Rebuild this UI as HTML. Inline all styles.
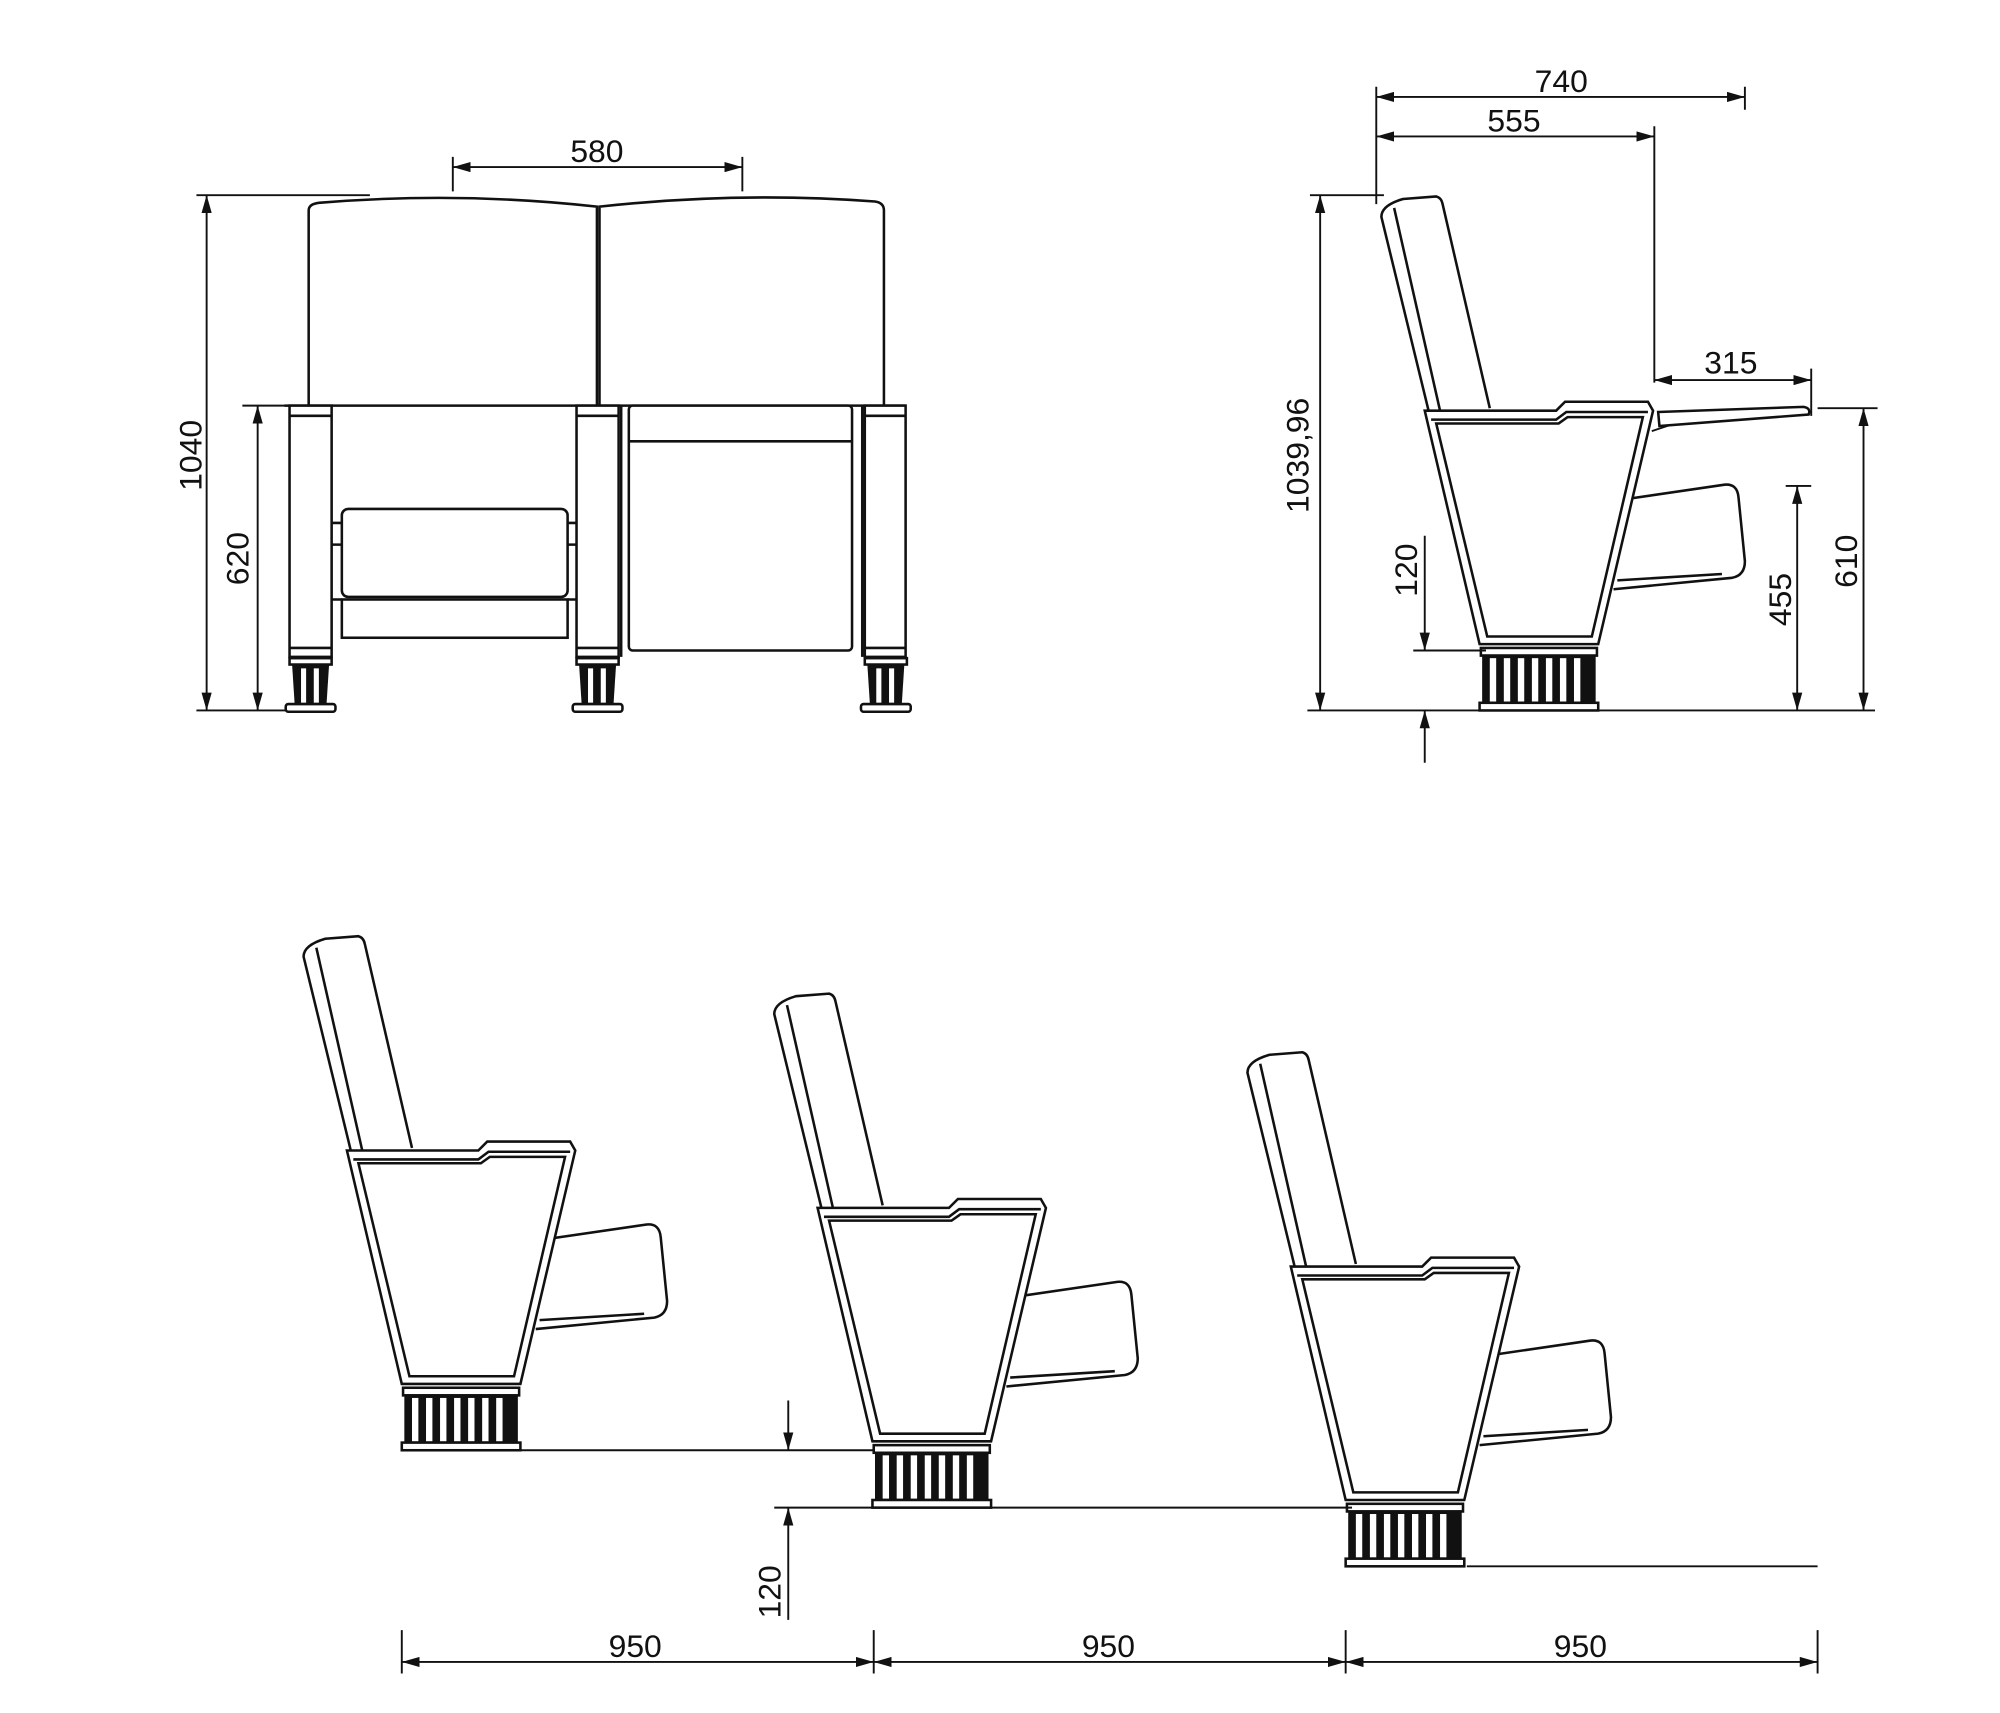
<!DOCTYPE html>
<html><head><meta charset="utf-8"><style>
html,body{margin:0;padding:0;background:#fff}
svg{display:block}
text{font-family:"Liberation Sans",sans-serif;font-size:25px;fill:#111}
</style></head><body>
<svg width="2000" height="1713" viewBox="0 0 1568 1343" xmlns="http://www.w3.org/2000/svg">
<defs>
<marker id="a" viewBox="0 0 14 8" refX="14" refY="4" markerWidth="14" markerHeight="8" markerUnits="userSpaceOnUse" orient="auto-start-reverse"><path d="M0,0 L14,4 L0,8 Z" fill="#111"/></marker>
<g id="chair" fill="none" stroke="#111" stroke-width="2">
  <path d="M1120,322 L1083,170 Q1083,161 1100,156 L1126,154 Q1130,155 1131,160 L1168,320"/>
  <path d="M1129,322 L1093,163"/>
  <path d="M1270,392 L1352,380 Q1362,379 1363,390 L1368,440 Q1368,451 1358,453 L1265,462"/>
  <path d="M1268,455 L1350,450"/>
  <path d="M1117,322 L1220,322 L1227,315 L1292,315 L1296,322 L1253,505 L1160,505 Z" fill="#fff"/>
  <path d="M1122,329 L1220,329 L1228,323 L1292,323"/>
  <path d="M1126,332 L1222,332 L1229,327 L1288,327 L1248,499 L1166,499 Z"/>
  <rect x="1161" y="508" width="91" height="6" fill="#fff"/>
  <rect x="1163" y="514" width="87" height="38" fill="#111"/>
  <g fill="#fff" stroke="none">
    <rect x="1168" y="516" width="5" height="34"/><rect x="1179" y="516" width="5" height="34"/>
    <rect x="1190" y="516" width="5" height="34"/><rect x="1201" y="516" width="5" height="34"/>
    <rect x="1212" y="516" width="5" height="34"/><rect x="1223" y="516" width="5" height="34"/>
    <rect x="1234" y="516" width="5" height="34"/>
  </g>
  <rect x="1160" y="551" width="93" height="6" fill="#fff"/>
</g>
<g id="foot">
  <rect x="0" y="0" width="33" height="5" fill="#fff" stroke="#111" stroke-width="2"/>
  <path d="M2,5 L31,5 L29,36 L4,36 Z" fill="#111"/>
  <rect x="9" y="8" width="4" height="27" fill="#fff"/><rect x="19" y="8" width="4" height="27" fill="#fff"/>
  <rect x="-3" y="36" width="39" height="6" rx="2" fill="#fff" stroke="#111" stroke-width="2"/>
</g>
</defs>

<!-- FRONT VIEW -->
<g fill="none" stroke="#111" stroke-width="2">
  <path d="M242,318 L242,165 Q242,160 250,159 Q360,150 468,162 L468,318"/>
  <path d="M470,318 L470,162 Q580,150 686,158 Q693,159 693,165 L693,318"/>
  <path d="M223,318 L710,318"/>
  <rect x="227" y="318" width="33" height="197" fill="#fff"/>
  <rect x="452" y="318" width="33" height="197" fill="#fff"/>
  <rect x="678" y="318" width="32" height="197" fill="#fff"/>
  <path d="M227,326 L260,326 M452,326 L485,326 M678,326 L710,326 M227,508 L260,508 M452,508 L485,508 M678,508 L710,508"/>
  <path d="M487,318 L487,515 M676,318 L676,515"/>
  <rect x="268" y="399" width="177" height="69" rx="5" fill="#fff"/>
  <rect x="268" y="470" width="177" height="30" fill="#fff"/>
  <path d="M260,410 L268,410 M260,427 L268,427 M445,410 L452,410 M445,427 L452,427 M260,470 L268,470 M445,470 L452,470"/>
  <rect x="493" y="318" width="175" height="192" rx="3" fill="#fff"/>
  <path d="M493,346 L668,346"/>
</g>
<use href="#foot" transform="translate(227,516)"/>
<use href="#foot" transform="translate(452,516)"/>
<use href="#foot" transform="translate(678,516)"/>

<!-- front dims -->
<g stroke="#111" stroke-width="1.5" fill="none">
  <path d="M355,123 L355,150 M582,123 L582,150"/>
  <path d="M355,131 L582,131" marker-start="url(#a)" marker-end="url(#a)"/>
  <path d="M154,153 L290,153 M154,557 L225,557 M190,318 L227,318 M190,557 L215,557"/>
  <path d="M162,153 L162,557" marker-start="url(#a)" marker-end="url(#a)"/>
  <path d="M202,318 L202,557" marker-start="url(#a)" marker-end="url(#a)"/>
</g>
<text x="468" y="127" text-anchor="middle">580</text>
<text transform="translate(158,357) rotate(-90)" text-anchor="middle">1040</text>
<text transform="translate(195,438) rotate(-90)" text-anchor="middle">620</text>

<!-- SIDE VIEW -->
<use href="#chair"/>
<g fill="#fff" stroke="#111" stroke-width="2">
  <path d="M1300,323 L1414,319 Q1420,320 1418,325 L1301,334 Z"/>
</g>
<path d="M1295,338 L1310,333" stroke="#111" stroke-width="1.5"/>
<g stroke="#111" stroke-width="1.5" fill="none">
  <path d="M1025,557 L1470,557"/>
  <path d="M1079,68 L1079,160 M1368,68 L1368,86 M1297,99 L1297,300 M1420,289 L1420,326 M1027,153 L1085,153 M1425,320 L1472,320 M1400,381 L1420,381 M1108,510 L1165,510"/>
  <path d="M1079,76 L1368,76" marker-start="url(#a)" marker-end="url(#a)"/>
  <path d="M1079,107 L1297,107" marker-start="url(#a)" marker-end="url(#a)"/>
  <path d="M1297,298 L1420,298" marker-start="url(#a)" marker-end="url(#a)"/>
  <path d="M1035,153 L1035,557" marker-start="url(#a)" marker-end="url(#a)"/>
  <path d="M1461,320 L1461,557" marker-start="url(#a)" marker-end="url(#a)"/>
  <path d="M1409,381 L1409,557" marker-start="url(#a)" marker-end="url(#a)"/>
  <path d="M1117,420 L1117,510" marker-end="url(#a)"/>
  <path d="M1117,598 L1117,557" marker-end="url(#a)"/>
</g>
<text x="1224" y="72" text-anchor="middle">740</text>
<text x="1187" y="103" text-anchor="middle">555</text>
<text x="1357" y="293" text-anchor="middle">315</text>
<text transform="translate(1026,357) rotate(-90)" text-anchor="middle">1039,96</text>
<text transform="translate(1111,447) rotate(-90)" text-anchor="middle">120</text>
<text transform="translate(1404,470) rotate(-90)" text-anchor="middle">455</text>
<text transform="translate(1456,440) rotate(-90)" text-anchor="middle">610</text>

<!-- BOTTOM ROW -->
<use href="#chair" transform="translate(-845,580)"/>
<use href="#chair" transform="translate(-476,625)"/>
<use href="#chair" transform="translate(-105,671)"/>
<g stroke="#111" stroke-width="1.5" fill="none">
  <path d="M405,1137 L685,1137 M607,1182 L1060,1182 M1150,1228 L1425,1228"/>
  <path d="M618,1098 L618,1137" marker-end="url(#a)"/>
  <path d="M618,1270 L618,1182" marker-end="url(#a)"/>
  <path d="M315,1278 L315,1312 M685,1278 L685,1312 M1055,1278 L1055,1312 M1425,1278 L1425,1312"/>
  <path d="M315,1303 L685,1303" marker-start="url(#a)" marker-end="url(#a)"/>
  <path d="M685,1303 L1055,1303" marker-start="url(#a)" marker-end="url(#a)"/>
  <path d="M1055,1303 L1425,1303" marker-start="url(#a)" marker-end="url(#a)"/>
</g>
<text transform="translate(612,1248) rotate(-90)" text-anchor="middle">120</text>
<text x="498" y="1299" text-anchor="middle">950</text>
<text x="869" y="1299" text-anchor="middle">950</text>
<text x="1239" y="1299" text-anchor="middle">950</text>
</svg>
</body></html>
